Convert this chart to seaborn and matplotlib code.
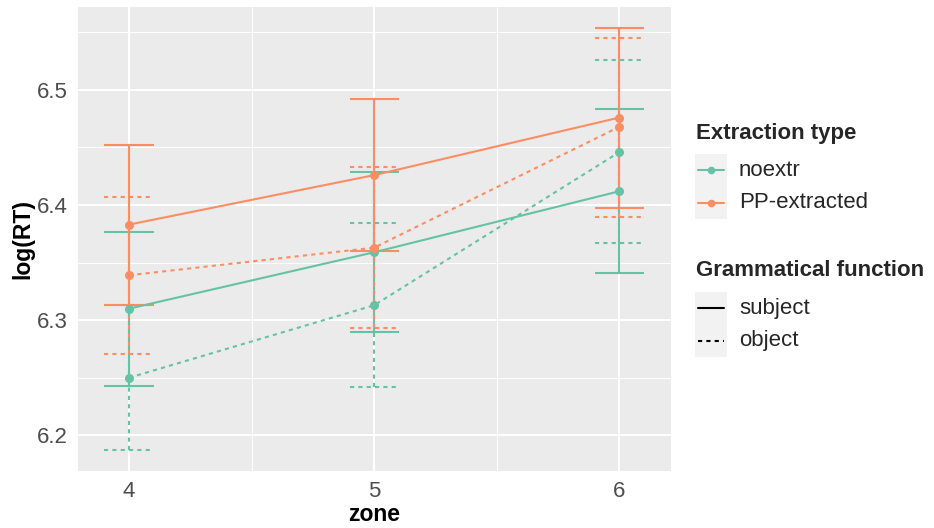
import pandas as pd
import matplotlib
matplotlib.use("Agg")
import matplotlib.pyplot as plt
import seaborn as sns
from matplotlib.lines import Line2D
from matplotlib.patches import Rectangle

# values
zones = [4, 5, 6]
extraction_types = ["noextr", "PP-extracted"]
functions = ["subject", "object"]

noextr_subject_mean = [6.310, 6.359, 6.412]
noextr_subject_lo = [6.243, 6.290, 6.341]
noextr_subject_hi = [6.377, 6.429, 6.483]

noextr_object_mean = [6.250, 6.313, 6.446]
noextr_object_lo = [6.187, 6.242, 6.367]
noextr_object_hi = [6.313, 6.384, 6.526]

pp_subject_mean = [6.383, 6.426, 6.476]
pp_subject_lo = [6.313, 6.360, 6.397]
pp_subject_hi = [6.452, 6.492, 6.554]

pp_object_mean = [6.339, 6.363, 6.468]
pp_object_lo = [6.271, 6.293, 6.390]
pp_object_hi = [6.407, 6.433, 6.545]

palette = {"noextr": "#66C2A5", "PP-extracted": "#FC8D62"}
dash_styles = {"subject": "", "object": (2, 2)}
err_styles = {"subject": "-", "object": (0, (2, 2))}

groups = [
    ("noextr", "subject", noextr_subject_mean, noextr_subject_lo, noextr_subject_hi),
    ("noextr", "object", noextr_object_mean, noextr_object_lo, noextr_object_hi),
    ("PP-extracted", "subject", pp_subject_mean, pp_subject_lo, pp_subject_hi),
    ("PP-extracted", "object", pp_object_mean, pp_object_lo, pp_object_hi),
]

rows = []
for ext, fn, means, los, his in groups:
    for z, m, lo, hi in zip(zones, means, los, his):
        rows.append({"zone": z, "logRT": m, "lo": lo, "hi": hi,
                     "extraction": ext, "function": fn})
df = pd.DataFrame(rows)

sns.set_theme(style="darkgrid", rc={
    "axes.facecolor": "#EBEBEB",
    "grid.color": "white",
    "axes.edgecolor": "none",
})
plt.rcParams["font.family"] = ["Liberation Sans", "DejaVu Sans"]

W, H = 934, 528
fig = plt.figure(figsize=(W / 100, H / 100), dpi=100)
ax = fig.add_axes([77.5 / W, 1 - 471 / H, (671 - 77.5) / W, (471 - 7) / H])

# error bars (drawn per group so the caps keep the line type)
cap = 0.1
for ext, fn, means, los, his in groups:
    sub = df[(df["extraction"] == ext) & (df["function"] == fn)]
    ax.vlines(sub["zone"], sub["lo"], sub["hi"], colors=palette[ext],
              linestyles=[err_styles[fn]], linewidth=1.5, zorder=3)
    for col in ["lo", "hi"]:
        ax.hlines(sub[col], sub["zone"] - cap, sub["zone"] + cap, colors=palette[ext],
                  linestyles=[err_styles[fn]], linewidth=1.5, zorder=3)

sns.lineplot(data=df, x="zone", y="logRT", hue="extraction", style="function",
             hue_order=extraction_types, style_order=functions,
             palette=palette, dashes=dash_styles, markers={"subject": "o", "object": "o"},
             markersize=6.5, markeredgewidth=0, linewidth=1.5, legend=False, ax=ax, zorder=4)

ax.set_xlim(3.79, 6.21)
ax.set_ylim(6.169, 6.572)
ax.set_xticks(zones)
ax.set_yticks([6.2, 6.3, 6.4, 6.5])
ax.set_xticks([4.5, 5.5], minor=True)
ax.set_yticks([6.25, 6.35, 6.45, 6.55], minor=True)
ax.grid(which="major", color="white", linewidth=1.5)
ax.grid(which="minor", color="white", linewidth=0.7)
ax.tick_params(which="major", length=4, width=1.1, color="#333333",
               labelsize=16, labelcolor="#4D4D4D", pad=3)
ax.tick_params(which="minor", length=0)
ax.set_xlabel("zone", fontsize=16.5, fontweight="bold", color="black", labelpad=1)
ax.set_ylabel("log(RT)", fontsize=16.5, fontweight="bold", color="black", labelpad=2)


# legends, laid out like ggplot's guides (grey key column, titles above)
def draw_legend(title, title_y, labels, handles, key_top):
    fig.text(696 / W, 1 - title_y / H, title, fontsize=16, fontweight="bold",
             va="center", ha="left")
    fig.patches.append(Rectangle((695 / W, 1 - (key_top + 32.5 * len(labels)) / H),
                                 32 / W, 32.5 * len(labels) / H, transform=fig.transFigure,
                                 facecolor="#F2F2F2", edgecolor="none", zorder=0))
    for i, (lab, h) in enumerate(zip(labels, handles)):
        yc = 1 - (key_top + 16.25 + 32.5 * i) / H
        fig.add_artist(Line2D([698 / W, 724 / W], [yc, yc], transform=fig.transFigure, **h))
        if h.get("marker"):
            fig.add_artist(Line2D([711 / W], [yc], transform=fig.transFigure, **h))
        fig.text(739 / W, yc, lab, fontsize=16, va="center", ha="left")


ext_handles = [dict(color=palette[e], marker="o", markersize=5, mew=0, lw=1.5)
               for e in extraction_types]
fn_handles = [dict(color="black", lw=1.5, linestyle=err_styles[f]) for f in functions]

draw_legend("Extraction type", 133, extraction_types,
            [dict(color=h["color"], lw=h["lw"]) for h in ext_handles], 154)
# dots on the extraction keys
for i, h in enumerate(ext_handles):
    yc = 1 - (154 + 16.25 + 32.5 * i) / H
    fig.add_artist(Line2D([711 / W], [yc], transform=fig.transFigure, linestyle="none",
                          color=h["color"], marker="o", markersize=5.5, mew=0))
draw_legend("Grammatical function", 271, functions, fn_handles, 292)

plt.savefig("out.png", dpi=100)
plt.close("all")
